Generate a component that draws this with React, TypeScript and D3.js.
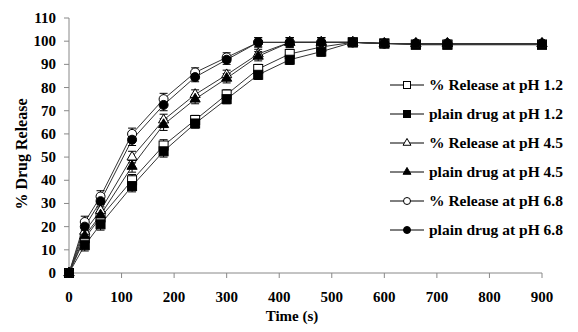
import React from "react";
import * as d3 from "d3";

const times = [0, 30, 60, 120, 180, 240, 300, 360, 420, 480, 540, 600, 660, 720, 900];
const releasePH12 = [0, 15, 24, 40, 55, 66, 77, 88, 94.5, 97.5, 99.5, 99, 98.5, 98.5, 98.5];
const plainPH12 = [0, 12, 21, 37.5, 52.5, 64.5, 75, 85.5, 92, 95.5, 99.5, 99, 98.5, 98.5, 98.5];
const releasePH45 = [0, 18, 27, 50, 66, 77, 85.5, 94.5, 99.5, 99.5, 99.5, 99, 99, 99, 99];
const plainPH45 = [0, 16, 25, 46, 64, 75, 84, 93.5, 99.5, 99.5, 99.5, 99, 99, 99, 99];
const releasePH68 = [0, 22, 33, 60, 75, 86.5, 93, 99.5, 99.5, 99.5, 99.5, 99, 99, 99, 99];
const plainPH68 = [0, 20, 31, 57.5, 72.5, 84.5, 92, 99.5, 99.5, 99.5, 99.5, 99, 99, 99, 99];
const errors = [0, 2.5, 2.5, 2.5, 2.5, 2, 2, 2, 2, 2, 1, 0.5, 0.5, 0.5, 0.5];

const seriesNames = [
  "% Release at pH 1.2",
  "plain drug at pH 1.2",
  "% Release at pH 4.5",
  "plain drug at pH 4.5",
  "% Release at pH 6.8",
  "plain drug at pH 6.8",
];
const seriesValues = [releasePH12, plainPH12, releasePH45, plainPH45, releasePH68, plainPH68];
const seriesShapes = ["square", "square", "triangle", "triangle", "circle", "circle"];
const seriesFilled = [false, true, false, true, false, true];

const xTicks = [0, 100, 200, 300, 400, 500, 600, 700, 800, 900];
const yTicks = [0, 10, 20, 30, 40, 50, 60, 70, 80, 90, 100, 110];

const W = 578, H = 332;
const x = d3.scaleLinear().domain([0, 900]).range([69, 542]);
const y = d3.scaleLinear().domain([0, 110]).range([273, 18]);
const FONT = "Liberation Serif, Times New Roman, serif";

function Marker({ shape, filled, cx, cy, s }: { shape: string; filled: boolean; cx: number; cy: number; s: number }) {
  const fill = filled ? "#000" : "#fff";
  if (shape === "square") {
    return <rect x={cx - s / 2} y={cy - s / 2} width={s} height={s} fill={fill} stroke="#000" strokeWidth={1} />;
  }
  if (shape === "triangle") {
    const sym = d3.symbol().type(d3.symbolTriangle).size(s * s * 0.55)();
    return <path d={sym || ""} transform={`translate(${cx},${cy})`} fill={fill} stroke="#000" strokeWidth={1} />;
  }
  return <circle cx={cx} cy={cy} r={s / 2} fill={fill} stroke="#000" strokeWidth={1} />;
}

export default function App() {
  const line = d3
    .line<number>()
    .x((_, i) => x(times[i]))
    .y((v) => y(v));

  return (
    <svg width={W} height={H} style={{ position: "absolute", left: 0, top: 0, background: "#fff" }}>
      <rect width={W} height={H} fill="#fff" />
      {/* axes */}
      <line x1={x(0)} x2={x(0)} y1={y(110)} y2={y(0)} stroke="#888" strokeWidth={1} />
      <line x1={x(0)} x2={x(900)} y1={y(0)} y2={y(0)} stroke="#888" strokeWidth={1} />
      {yTicks.map((t) => (
        <g key={"y" + t}>
          <line x1={x(0) - 5} x2={x(0)} y1={y(t)} y2={y(t)} stroke="#888" />
          <text x={56} y={y(t) + 5} textAnchor="end" fontFamily={FONT} fontWeight="bold" fontSize={15} fill="#000">
            {t}
          </text>
        </g>
      ))}
      {xTicks.map((t) => (
        <g key={"x" + t}>
          <line x1={x(t)} x2={x(t)} y1={y(0)} y2={y(0) + 5} stroke="#888" />
          <text x={x(t)} y={302} textAnchor="middle" fontFamily={FONT} fontWeight="bold" fontSize={15} fill="#000">
            {t}
          </text>
        </g>
      ))}
      <text x={292} y={321} textAnchor="middle" fontFamily={FONT} fontWeight="bold" fontSize={15} fill="#000">
        Time (s)
      </text>
      <text
        transform={`translate(27,154) rotate(-90)`}
        textAnchor="middle"
        fontFamily={FONT}
        fontWeight="bold"
        fontSize={16}
        fill="#000"
      >
        % Drug Release
      </text>

      {/* series */}
      {seriesValues.map((vals, si) => (
        <path key={"l" + si} d={line(vals) || ""} fill="none" stroke="#333" strokeWidth={1} />
      ))}
      {seriesValues.map((vals, si) => (
        <g key={"e" + si}>
          {vals.map((v, i) =>
            errors[i] > 0.6 ? (
              <g key={i}>
                <line x1={x(times[i])} x2={x(times[i])} y1={y(v - errors[i])} y2={y(v + errors[i])} stroke="#000" />
                <line x1={x(times[i]) - 4} x2={x(times[i]) + 4} y1={y(v - errors[i])} y2={y(v - errors[i])} stroke="#000" />
                <line x1={x(times[i]) - 4} x2={x(times[i]) + 4} y1={y(v + errors[i])} y2={y(v + errors[i])} stroke="#000" />
              </g>
            ) : null
          )}
        </g>
      ))}
      {seriesValues.map((vals, si) => (
        <g key={"m" + si}>
          {vals.map((v, i) => (
            <Marker key={i} shape={seriesShapes[si]} filled={seriesFilled[si]} cx={x(times[i])} cy={y(v)} s={9} />
          ))}
        </g>
      ))}

      {/* legend */}
      {seriesNames.map((name, i) => {
        const ly = 85 + i * 29;
        return (
          <g key={"lg" + i}>
            <line x1={390} x2={424} y1={ly} y2={ly} stroke="#000" strokeWidth={1} />
            <Marker shape={seriesShapes[i]} filled={seriesFilled[i]} cx={407} cy={ly} s={7} />
            <text x={429} y={ly + 5} fontFamily={FONT} fontWeight="bold" fontSize={15.5} fill="#000">
              {name}
            </text>
          </g>
        );
      })}
    </svg>
  );
}
